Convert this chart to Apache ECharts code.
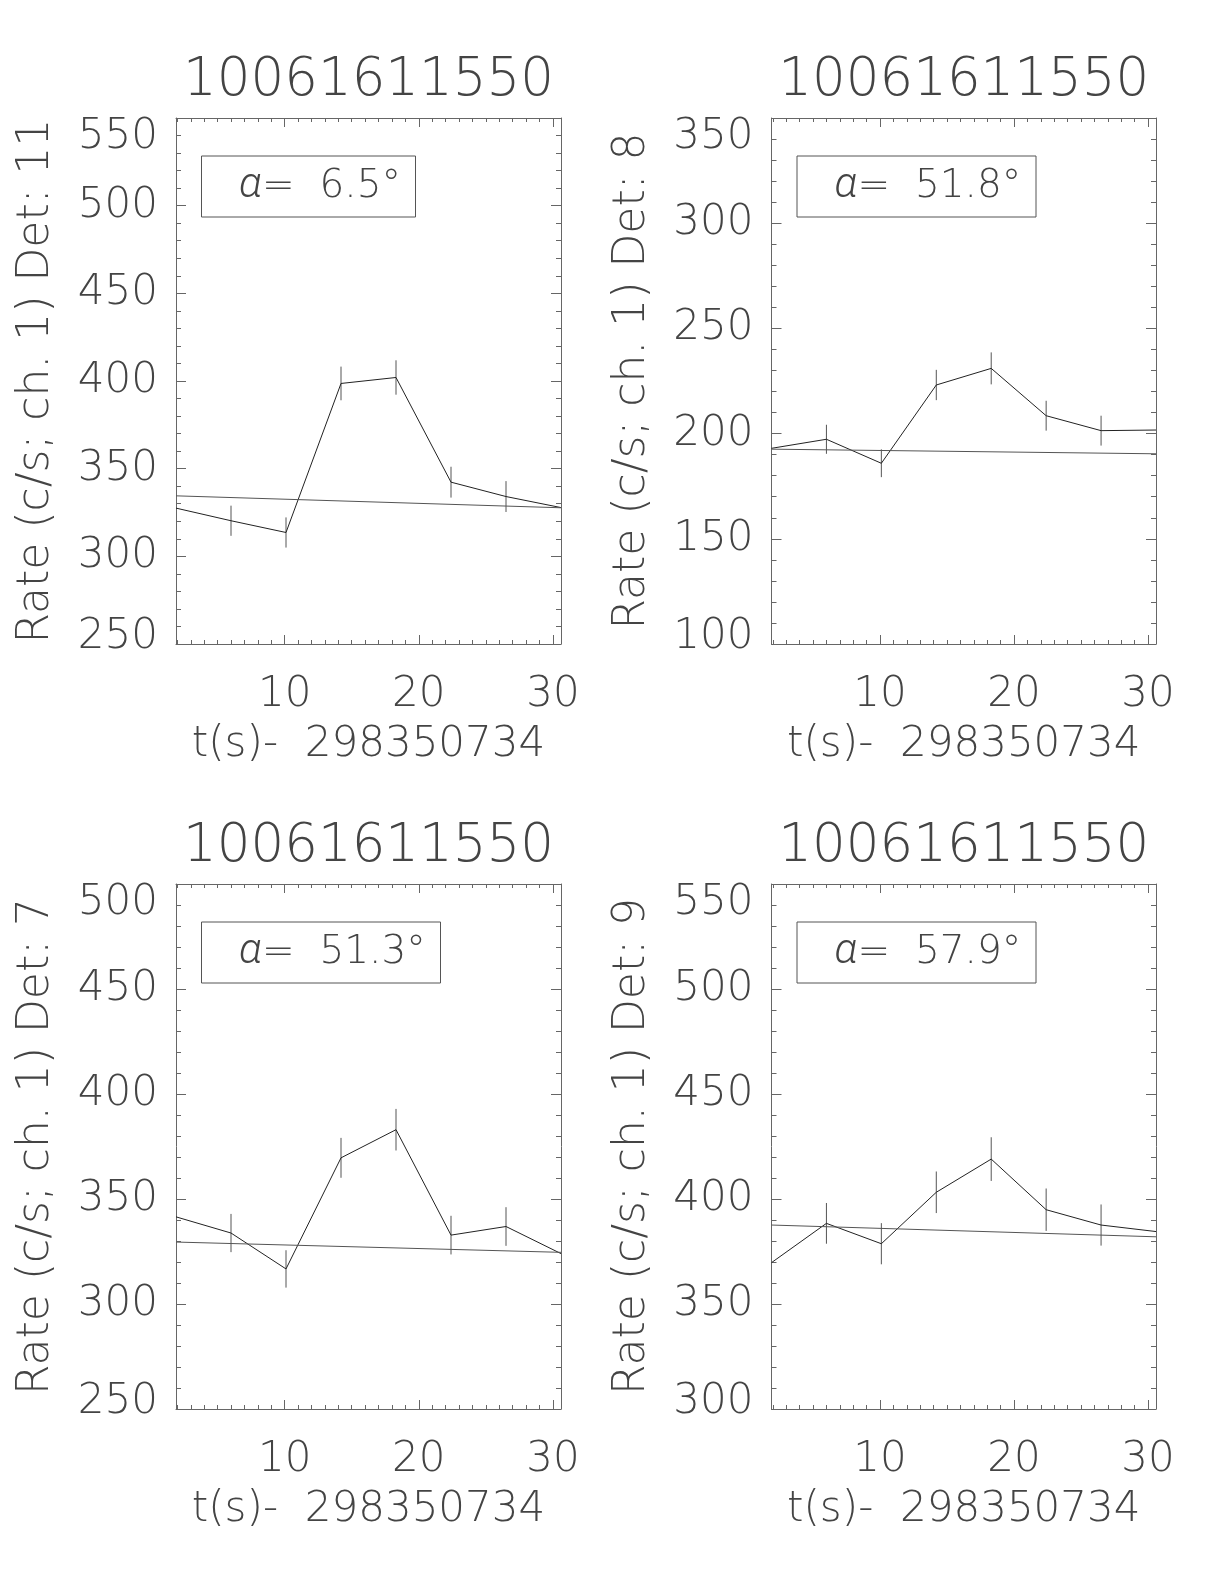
<!DOCTYPE html>
<html>
<head>
<meta charset="utf-8">
<script src="https://cdn.jsdelivr.net/npm/echarts@6/dist/echarts.min.js"></script>
<style>
html,body{margin:0;padding:0;background:#fff;}
#chart{width:1224px;height:1584px;}
</style>
</head>
<body>
<div id="chart"></div>
<script>
// ---------- data ----------
const panelTitle = '10061611550';
const xAxisTitle = 't(s)-  298350734';
const times = [1.9, 6.0, 10.1, 14.2, 18.3, 22.4, 26.5, 30.6];
const xMajorTicks = [10, 20, 30];
const xMinorTicks = [2, 3, 4, 5, 6, 7, 8, 9, 11, 12, 13, 14, 15, 16, 17, 18, 19, 21, 22, 23, 24, 25, 26, 27, 28, 29];
const xRange = [1.9, 30.6];

const detectors = ['11', '8', '7', '9'];
const alphas = ['6.5', '51.8', '51.3', '57.9'];
const yMins = [250, 100, 250, 300];
const yMaxs = [550, 350, 500, 550];

const rateDet11 = [327.5, 320.3, 313.6, 398.6, 402.0, 342.3, 334.1, 327.8];
const errDet11  = [null, 8.6, 8.6, 9.6, 9.8, 8.8, 8.8, null];
const bgDet11   = [334.5, 327.7];

const rateDet8 = [193.0, 197.3, 185.9, 223.1, 231.0, 208.5, 201.4, 201.7];
const errDet8  = [null, 6.9, 6.6, 7.2, 7.6, 7.1, 7.1, null];
const bgDet8   = [192.6, 190.4];

const rateDet7 = [341.5, 333.8, 316.7, 369.6, 383.0, 332.8, 336.9, 324.0];
const errDet7  = [null, 9.1, 8.9, 9.5, 9.9, 9.2, 9.2, null];
const bgDet7   = [329.5, 324.6];

const rateDet9 = [369.7, 388.4, 378.7, 403.2, 419.0, 394.9, 387.6, 384.5];
const errDet9  = [null, 9.7, 9.8, 9.9, 10.4, 10.1, 9.8, null];
const bgDet9   = [387.6, 382.0];

const rates = [rateDet11, rateDet8, rateDet7, rateDet9];
const errs = [errDet11, errDet8, errDet7, errDet9];
const bgs = [bgDet11, bgDet8, bgDet7, bgDet9];

// ---------- layout ----------
const FONT = '"DejaVu Sans", sans-serif';
const FW = 200;
const TXT = '#444';
const AXC = '#666';
const grids = [
  {left: 176, top: 118, width: 385, height: 526},
  {left: 771.5, top: 118, width: 384.5, height: 526},
  {left: 176, top: 884, width: 385, height: 525},
  {left: 771.5, top: 884, width: 384.5, height: 525}
];

const option = {
  animation: false,
  backgroundColor: '#fff',
  grid: grids.map(g => Object.assign({outerBoundsMode: 'none', containLabel: false}, g)),
  title: [],
  xAxis: [],
  yAxis: [],
  series: []
};

grids.forEach((g, i) => {
  // panel title
  option.title.push({
    text: panelTitle,
    left: g.left + g.width / 2,
    top: g.top - 63,
    textAlign: 'center',
    padding: 0,
    textStyle: {fontFamily: FONT, fontWeight: FW, fontSize: 53, color: TXT, lineHeight: 53}
  });
  // alpha legend box
  option.title.push({
    text: '{a|α}=  ' + alphas[i] + '°',
    left: g.left + 25,
    top: g.top + 38.5,
    padding: [10, 15, 10, 38],
    borderColor: '#555',
    borderWidth: 1,
    textStyle: {
      fontFamily: FONT, fontWeight: FW, fontSize: 39, color: TXT, lineHeight: 40,
      rich: {a: {fontFamily: 'Roboto, sans-serif', fontStyle: 'italic', fontWeight: 300, fontSize: 42, color: TXT, lineHeight: 40}}
    }
  });

  const xBase = {
    type: 'value', gridIndex: i, min: xRange[0], max: xRange[1],
    splitLine: {show: false}
  };
  option.xAxis.push(Object.assign({}, xBase, {
    position: 'bottom',
    axisLine: {show: true, lineStyle: {color: AXC, width: 1}},
    axisTick: {show: true, inside: true, length: 9, customValues: xMajorTicks, lineStyle: {color: AXC}},
    axisLabel: {show: true, customValues: xMajorTicks, fontFamily: FONT, fontWeight: FW, fontSize: 42, color: TXT, margin: 30},
    name: xAxisTitle, nameLocation: 'middle', nameGap: 80,
    nameTextStyle: {fontFamily: FONT, fontWeight: FW, fontSize: 42, color: TXT}
  }));
  const xMain = option.xAxis.length - 1;
  option.xAxis.push(Object.assign({}, xBase, {
    position: 'bottom',
    axisLine: {show: false},
    axisTick: {show: true, inside: true, length: 4, customValues: xMinorTicks, lineStyle: {color: AXC}},
    axisLabel: {show: false}
  }));
  option.xAxis.push(Object.assign({}, xBase, {
    position: 'top',
    axisLine: {show: true, lineStyle: {color: AXC, width: 1}},
    axisTick: {show: true, inside: true, length: 9, customValues: xMajorTicks, lineStyle: {color: AXC}},
    axisLabel: {show: false}
  }));
  option.xAxis.push(Object.assign({}, xBase, {
    position: 'top',
    axisLine: {show: false},
    axisTick: {show: true, inside: true, length: 4, customValues: xMinorTicks, lineStyle: {color: AXC}},
    axisLabel: {show: false}
  }));

  const yBase = {
    type: 'value', gridIndex: i, min: yMins[i], max: yMaxs[i], interval: 50,
    splitLine: {show: false},
    axisLine: {show: true, lineStyle: {color: AXC, width: 1}},
    axisTick: {show: true, inside: true, length: 10, lineStyle: {color: AXC}},
    minorTick: {show: true, splitNumber: 5, length: 5, lineStyle: {color: AXC}}
  };
  option.yAxis.push(Object.assign({}, yBase, {
    position: 'left',
    axisLabel: {show: true, fontFamily: FONT, fontWeight: FW, fontSize: 42, color: TXT, margin: 18,
      lineHeight: 14, padding: [12, 0, 0, 0],
      verticalAlignMinLabel: 'bottom', verticalAlignMaxLabel: 'top'},
    name: 'Rate (c/s; ch. 1) Det: ' + detectors[i], nameLocation: 'middle', nameGap: 117, nameRotate: 90,
    nameTextStyle: {fontFamily: FONT, fontWeight: FW, fontSize: 44, color: TXT}
  }));
  const yMain = option.yAxis.length - 1;
  option.yAxis.push(Object.assign({}, yBase, {
    position: 'right',
    axisLabel: {show: false}
  }));

  const pts = times.map((t, k) => [t, rates[i][k]]);
  option.series.push({
    type: 'line', xAxisIndex: xMain, yAxisIndex: yMain,
    data: pts, showSymbol: false, symbol: 'none',
    lineStyle: {color: '#222', width: 1}, silent: true
  });
  option.series.push({
    type: 'line', xAxisIndex: xMain, yAxisIndex: yMain,
    data: [[times[0], bgs[i][0]], [times[times.length - 1], bgs[i][1]]],
    showSymbol: false, symbol: 'none',
    lineStyle: {color: '#555', width: 1}, silent: true
  });
  const errData = [];
  times.forEach((t, k) => { if (errs[i][k] != null) errData.push([t, rates[i][k], errs[i][k]]); });
  option.series.push({
    type: 'custom', xAxisIndex: xMain, yAxisIndex: yMain, silent: true,
    data: errData,
    renderItem: function (params, api) {
      const x = api.value(0), y = api.value(1), e = api.value(2);
      const p1 = api.coord([x, y - e]);
      const p2 = api.coord([x, y + e]);
      return {type: 'line', shape: {x1: p1[0], y1: p1[1], x2: p2[0], y2: p2[1]},
        style: {stroke: '#555', lineWidth: 1}};
    }
  });
});

const chart = echarts.init(document.getElementById('chart'), null, {renderer: 'canvas'});
chart.setOption(option);
</script>
</body>
</html>
